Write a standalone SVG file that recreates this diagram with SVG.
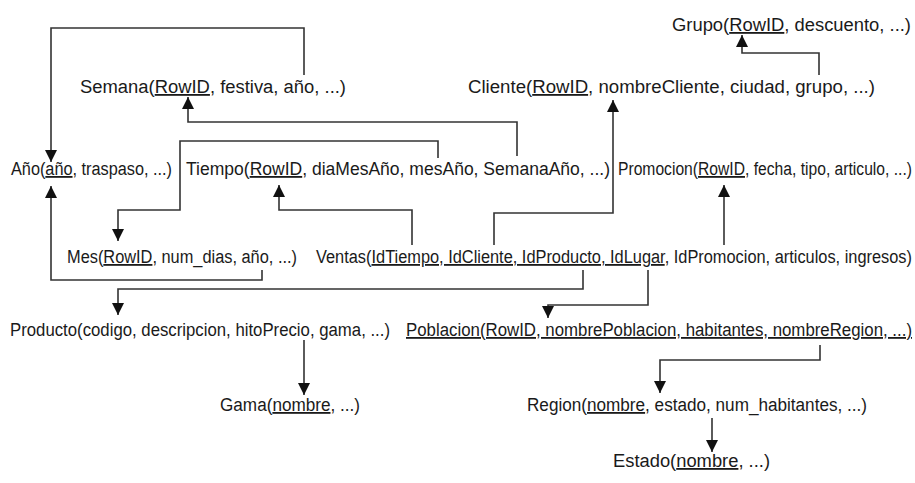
<svg xmlns="http://www.w3.org/2000/svg" width="915" height="483" viewBox="0 0 915 483">
<style>
text{font-family:"Liberation Sans",Arial,sans-serif;font-size:18px;fill:#1a1a1a}
.u{text-decoration:underline}
.c path{fill:none;stroke:#333;stroke-width:1.6}
</style>
<defs>
<marker id="ah" markerUnits="userSpaceOnUse" markerWidth="12" markerHeight="12" viewBox="0 0 10 10" refX="10" refY="5" orient="auto">
<path d="M0,0 L10,5 L0,10 z" fill="#111"/>
</marker>
</defs>
<rect width="915" height="483" fill="#fff"/>
<g class="c" id="connectors">
<path d="M304,75 V28 H51 V162" marker-end="url(#ah)"/>
<path d="M517,156 V122 H188 V97" marker-end="url(#ah)"/>
<path d="M438,158 V141 H180 V210 H118 V241" marker-end="url(#ah)"/>
<path d="M262,270 V280 H51 V186" marker-end="url(#ah)"/>
<path d="M412,245 V210 H279 V185" marker-end="url(#ah)"/>
<path d="M494,245 V213 H613 V100" marker-end="url(#ah)"/>
<path d="M724,245 V185" marker-end="url(#ah)"/>
<path d="M583,270 V289 H118 V315" marker-end="url(#ah)"/>
<path d="M648,270 V305 H548 V318" marker-end="url(#ah)"/>
<path d="M304,340 V395" marker-end="url(#ah)"/>
<path d="M820,345 V360 H660 V393" marker-end="url(#ah)"/>
<path d="M712,418 V452" marker-end="url(#ah)"/>
<path d="M819,75 V53 H742 V35" marker-end="url(#ah)"/>
</g>
<g id="grupo"><text x="672" y="31" textLength="239" lengthAdjust="spacingAndGlyphs">Grupo(<tspan class="u">RowID</tspan>, descuento, ...)</text></g>
<g id="semana"><text x="80" y="93" textLength="266" lengthAdjust="spacingAndGlyphs">Semana(<tspan class="u">RowID</tspan>, festiva, año, ...)</text></g>
<g id="cliente"><text x="468" y="93" textLength="407" lengthAdjust="spacingAndGlyphs">Cliente(<tspan class="u">RowID</tspan>, nombreCliente, ciudad, grupo, ...)</text></g>
<g id="anio"><text x="11" y="175" textLength="161" lengthAdjust="spacingAndGlyphs">Año(<tspan class="u">año</tspan>, traspaso, ...)</text></g>
<g id="tiempo"><text x="186" y="175" textLength="424" lengthAdjust="spacingAndGlyphs">Tiempo(<tspan class="u">RowID</tspan>, diaMesAño, mesAño, SemanaAño, ...)</text></g>
<g id="promocion"><text x="618" y="175" textLength="294" lengthAdjust="spacingAndGlyphs">Promocion(<tspan class="u">RowID</tspan>, fecha, tipo, articulo, ...)</text></g>
<g id="mes"><text x="67" y="263" textLength="230" lengthAdjust="spacingAndGlyphs">Mes(<tspan class="u">RowID</tspan>, num_dias, año, ...)</text></g>
<g id="ventas"><text x="316" y="263" textLength="596" lengthAdjust="spacingAndGlyphs">Ventas(<tspan class="u">IdTiempo, IdCliente, IdProducto, IdLugar</tspan>, IdPromocion, articulos, ingresos)</text></g>
<g id="producto"><text x="10" y="336" textLength="380" lengthAdjust="spacingAndGlyphs">Producto(codigo, descripcion, hitoPrecio, gama, ...)</text></g>
<g id="poblacion"><text x="406" y="336" textLength="506" lengthAdjust="spacingAndGlyphs" class="u">Poblacion(RowID, nombrePoblacion, habitantes, nombreRegion, ...)</text></g>
<g id="gama"><text x="220" y="411" textLength="140" lengthAdjust="spacingAndGlyphs">Gama(<tspan class="u">nombre</tspan>, ...)</text></g>
<g id="region"><text x="527" y="411" textLength="340" lengthAdjust="spacingAndGlyphs">Region(<tspan class="u">nombre</tspan>, estado, num_habitantes, ...)</text></g>
<g id="estado"><text x="613" y="467" textLength="157" lengthAdjust="spacingAndGlyphs">Estado(<tspan class="u">nombre</tspan>, ...)</text></g>
</svg>
